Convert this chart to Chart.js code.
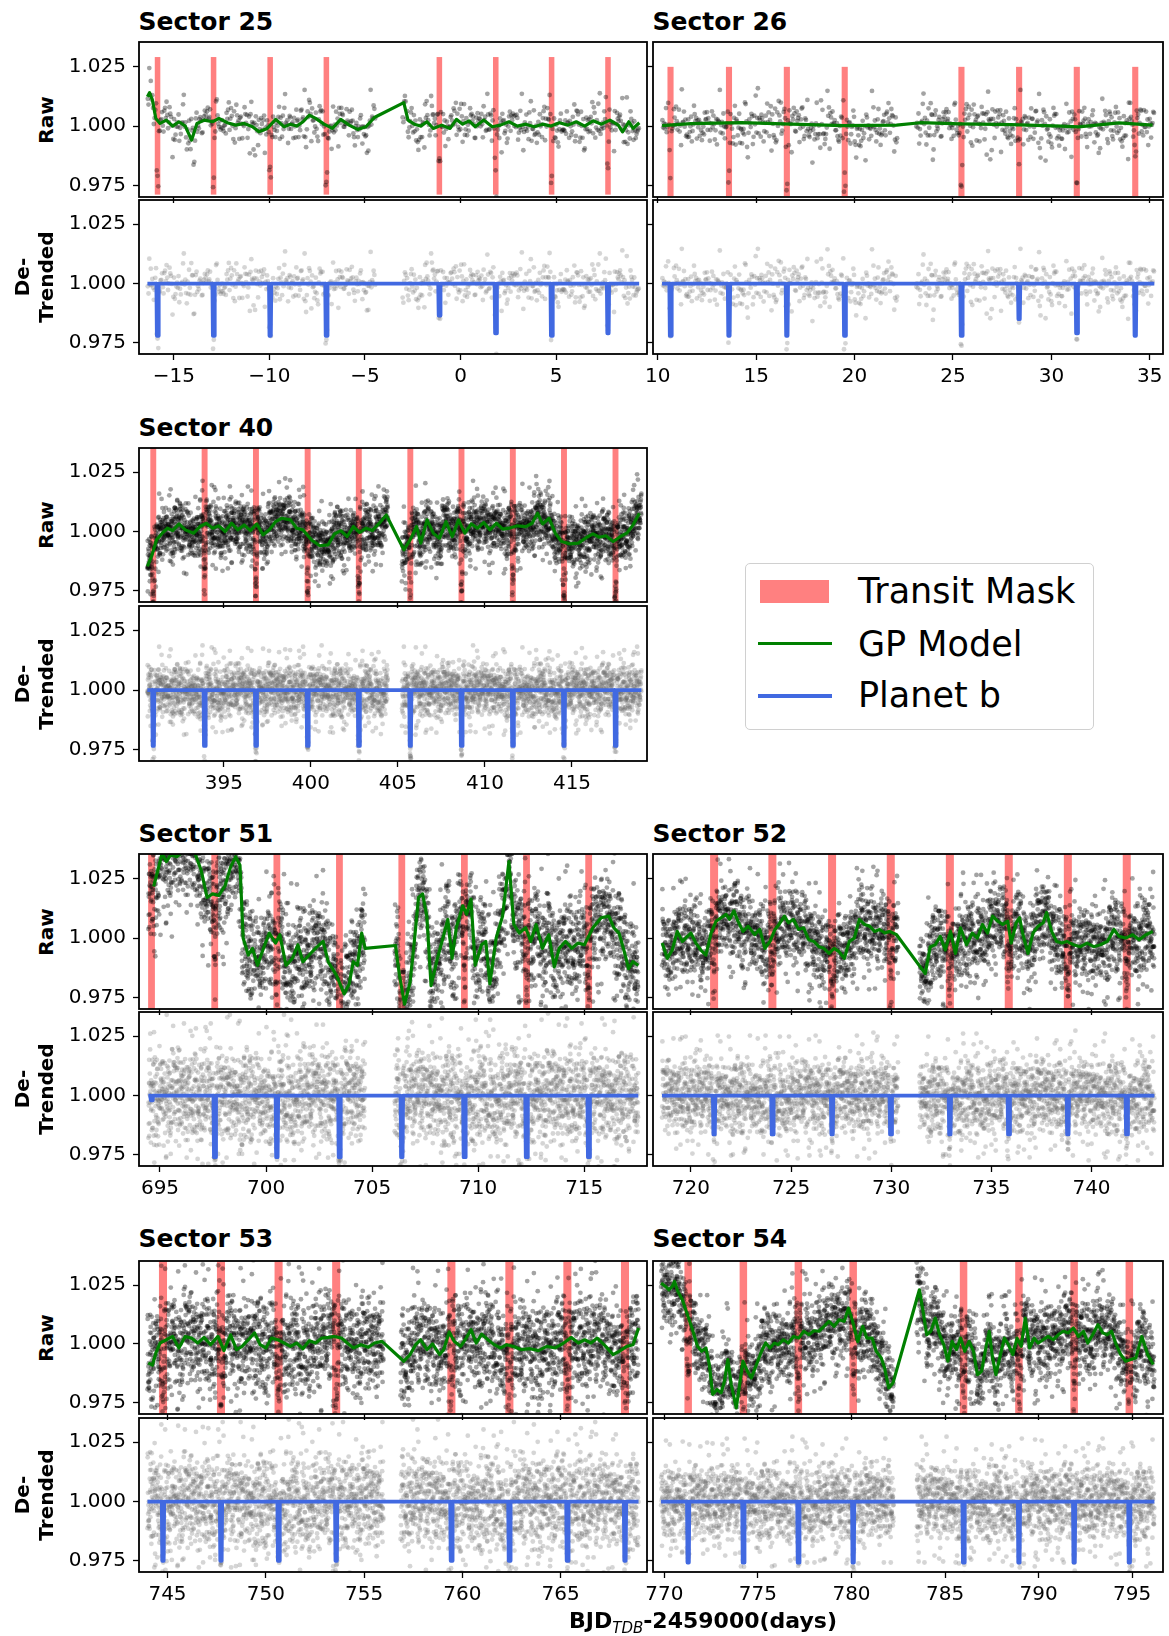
<!DOCTYPE html>
<html lang="en">
<head>
<meta charset="UTF-8">
<title>TESS sectors - raw and de-trended light curves</title>
<script src="https://cdn.jsdelivr.net/npm/chart.js"></script>
<style>
  body { margin: 0; background: #fff; }
  #fig { position: relative; width: 1169px; height: 1636px; overflow: hidden; font-family: 'DejaVu Sans', sans-serif; color: #000; }
  #fig canvas { position: absolute; }
  .txt { position: absolute; white-space: nowrap; }
  .title { font-weight: bold; font-size: 25px; line-height: 25px; }
  .ylab { font-weight: bold; font-size: 20px; line-height: 24px; text-align: center; width: 160px; transform: rotate(-90deg); }
  .leg { font-size: 35px; line-height: 35px; }
  .xlab { font-weight: bold; font-size: 22px; line-height: 22px; }
  .xlab span { font-size: 15px; font-style: italic; font-weight: normal; position: relative; top: 5px; }
</style>
</head>
<body>
<div id="fig"></div>
<script>
// ---- shared axis values ----
const yTicks = [0.975, 1.000, 1.025];
const yRange = [0.9703, 1.0352];

// hand-typed scatter residuals (letter = bin of a unit normal, a second letter = position inside the bin)
const NOISE = [
  'kqmfrxbtoehwjsluancyvdgpizmtoqbhevkrlxdsjwanfucgyi',
  'rlnphqmoskjtdgewivucbfxlyonqampzrkhtlsjgmdoeuwpvca',
  'tvjmeqxohcrnbkalwgsdpyufizqmlnrhkoteswgjvpdcbxuafy',
  'nkslrmqpojhtgiedluwsfmvcqxbnrytokplajmhsgzwqdeivru',
  'mqjbnkroltpshgvxcdeaiwfnmylquorzktpjbhsegcivdwfxal',
  'sohqnmlrkpjwtecgiyfubvdxnaqlrmsopkhjztiwgceufvdbly',
  'gwpmkdqolnbrhjsteiyvudaxcfmnolqkrzpsjhtgwiueafvdcb',
  'uelrnqxmskophajtgiczvdwkbfymlnpoqrhsjitgeuvwdfxcbm',
  'hjqanolmvprkgysatiwdbeucfxlnmzqorpjkhsitgvuwdecfby',
  'qmokcpnlrsjhxtgiaufvdwebynlomqkrpsjthzgiuvfwdexcbl',
  'vdnrmqyolkpsjhtbgiuafwexcqnmlorkpjzshtgiuvfdwecxbn',
  'wolqmnkrpajshtgizvufdexcbymnolqkprjsthgiuvfwdcexbo',
  'pimqalnrshvoktjgzudwecfbxnyqlmopsrkjhtgiwvufdxceba',
  'jrlnmoqkpshbtgiuawvdfcxezynlomqrkpjsthgiuvwfdcexbq',
  'zhcqmuwkaoprlgxfbtnjevsidymqhlpkcrgwotnuaezfjsvbxi',
  'pgtlxnwdqhombkvrefjcszuaiylmpqowhtnkgrxdbsujvecfia',
  'eqbvnsltjzkrhmgcoudwpaxifnymkhqtrlsbgepvwojcuxdnza',
  'wjrmdkfoqnbhstzlgpcveyaximulqntkrhosjdwgfbpcveymax',
  'nsfqkgzmcrotbhdpwulejvyaixqnmkhltsorgpdvjbwucefxlz',
  'ivmrkqaolhtgybnwsdcjepzxufmqkolrnhtgjsbwpvdciyuean',
  'rcokmsjqylfhwnpbtadgzuxevilqomkrpjsnthgwbdcfyuaxve',
  'lyhkpqndmrsoejtwgcbxazuifvnmkorqlhpstjgdwecbyaxufi',
  'gdnqlmrtovkhpsjweicbzyaxfulnmqrkoptshjgvidwecfbxai',
  'qtmnkoyrplhsjdgwiucfzebxavmlqnrkopshtgijudwvfecbyx'
].join('');
const BIN_EDGES = [-2.9,-1.769,-1.426,-1.198,-1.020,-0.869,-0.736,-0.615,-0.502,-0.396,-0.293,-0.194,-0.097,0,
                   0.097,0.194,0.293,0.396,0.502,0.615,0.736,0.869,1.020,1.198,1.426,1.769,2.9];

// ---- Sector 25 ----
const s25Range = [-16.82, 9.75];
const s25Ticks = [-15, -10, -5, 0, 5];
const s25Segments = [[-16.38, -4.45], [-3.05, 9.34]];
const s25Transits = [-15.85, -12.92, -9.96, -7.02, -1.11, 1.84, 4.76, 7.71];
const s25Depths = [0.022, 0.022, 0.022, 0.022, 0.0135, 0.021, 0.022, 0.021];
const s25Gp = [[-16.38,1.0123],[-16.27,1.0140],[-16.12,1.0109],[-15.94,1.0032],[-15.72,1.0011],[-15.39,1.0025],[-15.06,1.0000],
  [-14.73,1.0018],[-14.40,1.0000],[-14.07,0.9941],[-13.79,1.0011],[-13.41,1.0025],[-12.97,1.0018],[-12.64,1.0032],[-12.20,1.0014],
  [-11.76,1.0004],[-11.32,1.0011],[-10.88,0.9997],[-10.55,0.9976],[-10.11,0.9990],[-9.67,1.0028],[-9.23,0.9997],[-8.90,1.0008],
  [-8.57,1.0000],[-8.24,1.0018],[-7.91,1.0046],[-7.58,1.0032],[-7.14,1.0008],[-6.71,0.9990],[-6.27,1.0028],[-5.83,1.0004],
  [-5.39,0.9986],[-4.95,0.9997],[-4.51,1.0036],[-2.97,1.0098],[-2.75,1.0025],[-2.42,1.0008],[-2.09,1.0000],[-1.76,1.0018],
  [-1.43,0.9990],[-0.99,1.0004],[-0.55,0.9990],[-0.22,1.0028],[0.11,1.0008],[0.44,1.0022],[0.77,0.9997],[1.21,1.0025],
  [1.65,0.9997],[2.09,1.0004],[2.53,1.0018],[2.97,1.0000],[3.41,1.0008],[3.85,0.9997],[4.29,1.0008],[4.73,1.0000],
  [5.17,1.0014],[5.61,1.0004],[6.05,1.0018],[6.49,1.0000],[6.93,1.0022],[7.37,1.0008],[7.81,1.0025],[8.25,1.0004],
  [8.47,0.9976],[8.80,1.0018],[9.02,0.9990],[9.35,1.0014]];

// ---- Sector 26 ----
const s26Range = [9.76, 35.67];
const s26Ticks = [10, 15, 20, 25, 30, 35];
const s26Segments = [[10.22, 22.18], [23.12, 35.23]];
const s26Transits = [10.65, 13.62, 16.56, 19.50, 25.43, 28.36, 31.29, 34.26];
const s26Depths = [0.022, 0.022, 0.022, 0.022, 0.022, 0.015, 0.021, 0.022];
const s26Gp = [[10.22,1.0002],[11.68,1.0010],[14.25,1.0014],[16.82,1.0008],[19.39,1.0002],[22.13,1.0004],[23.33,1.0014],
  [25.38,1.0009],[27.95,1.0006],[30.52,1.0000],[31.38,0.9997],[33.43,1.0013],[35.14,1.0004]];

// ---- Sector 40 ----
const s40Range = [390.12, 419.31];
const s40Ticks = [395, 400, 405, 410, 415];
const s40Segments = [[390.6, 404.42], [405.22, 418.99]];
const s40Transits = [390.94, 393.89, 396.84, 399.81, 402.75, 405.71, 408.65, 411.60, 414.54, 417.50];
const s40Depths = [0.0234, 0.0234, 0.0234, 0.0234, 0.0234, 0.0234, 0.0234, 0.0234, 0.0234, 0.0234];
const s40Gp = [[390.60,0.9853],[390.84,0.9895],[391.13,0.9965],[391.45,0.9993],[391.76,1.0014],[392.05,1.0004],[392.42,1.0032],
  [392.78,1.0007],[393.26,0.9993],[393.62,1.0021],[393.99,1.0035],[394.35,1.0014],[394.71,1.0024],[395.07,1.0000],[395.44,1.0035],
  [395.80,1.0007],[396.16,1.0028],[396.52,1.0004],[396.89,1.0032],[397.25,0.9986],[397.61,1.0007],[397.97,1.0042],[398.33,1.0056],
  [398.82,1.0049],[399.18,1.0014],[399.54,1.0007],[400.03,0.9965],[400.51,0.9940],[400.99,0.9944],[401.35,0.9990],[401.72,1.0004],
  [402.08,0.9979],[402.44,1.0021],[402.80,0.9996],[403.17,1.0014],[403.53,1.0004],[403.89,1.0032],[404.33,1.0070],[405.34,0.9923],
  [405.70,0.9965],[406.07,1.0021],[406.31,0.9951],[406.67,1.0049],[407.03,0.9993],[407.39,0.9972],[407.76,1.0042],[408.12,0.9979],
  [408.48,1.0049],[408.84,0.9993],[409.21,1.0032],[409.57,1.0014],[409.93,1.0038],[410.29,1.0007],[410.66,1.0035],[411.02,1.0010],
  [411.38,1.0014],[411.86,1.0024],[412.35,1.0021],[412.71,1.0035],[413.02,1.0077],[413.31,1.0032],[413.68,1.0056],[414.04,0.9993],
  [414.40,0.9958],[414.88,0.9948],[415.37,0.9951],[415.85,0.9976],[416.21,0.9990],[416.57,0.9976],[416.94,0.9982],[417.37,0.9958],
  [417.78,0.9979],[418.15,0.9993],[418.51,1.0028],[418.87,1.0077]];

// ---- Sector 51 ----
const s51Range = [694.01, 717.96];
const s51Ticks = [695, 700, 705, 710, 715];
const s51Segments = [[694.45, 704.67], [706.06, 717.55]];
const s51Transits = [694.60, 697.58, 700.51, 703.46, 706.40, 709.35, 712.28, 715.21];
const s51Depths = [0.002, 0.026, 0.026, 0.026, 0.026, 0.026, 0.026, 0.026];
const s51Gp = [[694.70,1.0216],[694.96,1.0305],[695.10,1.0355],[695.30,1.0320],[695.50,1.0348],[695.79,1.0341],[696.19,1.0369],
  [696.59,1.0369],[696.94,1.0284],[697.22,1.0170],[697.48,1.0185],[697.77,1.0178],[698.07,1.0220],[698.33,1.0298],[698.57,1.0341],
  [698.77,1.0305],[698.92,1.0000],[699.16,0.9929],[699.36,0.9957],[699.60,0.9886],[699.85,0.9950],[700.15,1.0021],[700.45,0.9979],
  [700.65,1.0014],[700.94,0.9886],[701.24,0.9915],[701.50,0.9972],[701.74,0.9901],[702.03,0.9929],[702.33,0.9957],[702.69,0.9986],
  [702.93,0.9901],[703.32,0.9844],[703.68,0.9766],[703.92,0.9808],[704.11,0.9901],[704.31,0.9886],[704.51,1.0021],[704.67,0.9957],
  [706.10,0.9969],[706.29,0.9844],[706.53,0.9723],[706.79,0.9815],[706.99,0.9986],[707.19,1.0170],[707.38,1.0185],[707.58,1.0092],
  [707.78,0.9801],[708.08,0.9915],[708.38,1.0014],[708.57,1.0078],[708.77,0.9915],[708.97,1.0043],[709.27,1.0135],[709.46,1.0100],
  [709.66,1.0163],[709.86,0.9886],[710.16,0.9972],[710.36,0.9986],[710.55,0.9808],[710.85,1.0000],[711.15,1.0092],[711.45,1.0320],
  [711.68,1.0057],[711.94,1.0021],[712.24,1.0043],[712.48,0.9986],[712.73,1.0057],[713.03,0.9957],[713.33,1.0014],[713.59,0.9879],
  [713.82,0.9957],[714.12,0.9986],[714.42,0.9957],[714.71,0.9979],[715.01,0.9972],[715.41,1.0043],[715.80,1.0085],[716.16,1.0092],
  [716.40,1.0043],[716.64,1.0021],[716.89,0.9943],[717.09,0.9872],[717.29,0.9901],[717.55,0.9886]];

// ---- Sector 52 ----
const s52Range = [718.11, 743.57];
const s52Ticks = [720, 725, 730, 735, 740];
const s52Segments = [[718.56, 730.35], [731.41, 743.14]];
const s52Transits = [721.16, 724.07, 727.05, 729.98, 732.93, 735.87, 738.82, 741.76];
const s52Depths = [0.0164, 0.0164, 0.0164, 0.0164, 0.0164, 0.0164, 0.0164, 0.0164];
const s52Gp = [[718.57,0.9979],[718.82,0.9915],[719.07,0.9950],[719.32,1.0028],[719.58,0.9986],[719.83,1.0007],[720.00,1.0021],
  [720.25,0.9979],[720.50,0.9950],[720.75,0.9929],[721.01,1.0021],[721.26,1.0071],[721.51,1.0085],[721.76,1.0099],[721.93,1.0078],
  [722.15,1.0114],[722.35,1.0071],[722.60,1.0028],[722.86,1.0050],[723.19,1.0014],[723.44,1.0036],[723.70,0.9957],[723.95,0.9986],
  [724.20,1.0036],[724.40,1.0057],[724.67,1.0092],[724.87,1.0064],[725.12,1.0078],[725.38,1.0036],[725.63,1.0043],[725.88,0.9993],
  [726.14,0.9986],[726.39,0.9964],[726.64,0.9957],[726.90,0.9936],[727.15,0.9957],[727.40,0.9943],[727.66,0.9915],[727.91,0.9986],
  [728.16,1.0000],[728.41,1.0078],[728.67,1.0057],[728.92,1.0050],[729.17,1.0028],[729.42,1.0036],[729.68,1.0021],[729.93,1.0028],
  [730.27,1.0014],[731.70,0.9851],[731.95,0.9964],[732.20,0.9972],[732.45,1.0007],[732.70,0.9950],[732.96,1.0028],[733.21,0.9936],
  [733.46,1.0043],[733.76,0.9972],[734.05,1.0021],[734.30,1.0000],[734.56,1.0057],[734.81,1.0021],[735.06,1.0092],[735.32,1.0071],
  [735.57,1.0057],[735.82,1.0071],[735.99,0.9979],[736.24,1.0064],[736.41,1.0085],[736.58,1.0014],[736.83,0.9936],[737.08,1.0021],
  [737.34,1.0050],[737.59,1.0064],[737.76,1.0107],[738.01,1.0028],[738.26,0.9986],[738.52,0.9979],[738.77,0.9986],[739.10,0.9972],
  [739.44,0.9964],[739.78,0.9979],[740.11,0.9964],[740.45,0.9972],[740.79,0.9986],[741.12,1.0036],[741.38,1.0007],[741.71,1.0000],
  [742.05,1.0014],[742.38,0.9993],[742.72,1.0014],[743.06,1.0028]];

// ---- Sector 53 ----
const s53Range = [743.55, 769.39];
const s53Ticks = [745, 750, 755, 760, 765];
const s53Segments = [[743.98, 755.99], [756.85, 768.96]];
const s53Transits = [744.77, 747.72, 750.65, 753.58, 759.44, 762.39, 765.34, 768.27];
const s53Depths = [0.025, 0.025, 0.025, 0.025, 0.025, 0.025, 0.025, 0.025];
const s53Gp = [[744.02,0.9920],[744.23,0.9910],[744.41,0.9962],[744.62,1.0004],[744.94,1.0018],[745.26,1.0032],[745.58,0.9983],
  [745.90,1.0032],[746.22,1.0025],[746.54,1.0004],[746.86,1.0028],[747.19,0.9997],[747.57,1.0032],[747.87,0.9972],[748.21,1.0039],
  [748.51,0.9976],[748.79,0.9990],[749.11,1.0018],[749.43,1.0047],[749.71,0.9997],[750.01,0.9983],[750.29,1.0025],[750.61,1.0018],
  [750.93,1.0004],[751.25,0.9990],[751.57,1.0004],[751.89,0.9980],[752.21,1.0014],[752.53,1.0004],[752.85,1.0025],[753.17,1.0028],
  [753.49,1.0032],[753.86,1.0025],[754.14,1.0004],[754.46,0.9983],[754.84,0.9997],[755.21,0.9986],[755.53,1.0004],[755.91,1.0011],
  [757.02,0.9927],[757.34,0.9955],[757.62,0.9997],[757.88,1.0018],[758.20,0.9976],[758.48,1.0000],[758.84,0.9955],[759.05,0.9976],
  [759.33,1.0051],[759.59,1.0011],[759.91,0.9990],[760.19,1.0025],[760.44,1.0061],[760.70,1.0004],[760.98,1.0042],[761.30,1.0018],
  [761.62,0.9997],[761.94,0.9983],[762.26,0.9997],[762.58,0.9990],[763.01,0.9976],[763.44,0.9980],[763.87,0.9972],[764.29,0.9990],
  [764.72,0.9983],[765.15,1.0004],[765.54,1.0028],[765.90,1.0004],[766.22,1.0018],[766.54,1.0004],[766.86,1.0025],[767.29,0.9990],
  [767.67,0.9955],[767.97,0.9969],[768.36,0.9990],[768.68,0.9997],[768.96,1.0068]];

// ---- Sector 54 ----
const s54Range = [769.39, 796.65];
const s54Ticks = [770, 775, 780, 785, 790, 795];
const s54Segments = [[769.82, 782.26], [783.48, 796.19]];
const s54Transits = [771.27, 774.22, 777.16, 780.09, 785.99, 788.95, 791.90, 794.85];
const s54Depths = [0.0257, 0.0257, 0.0257, 0.0257, 0.0257, 0.0257, 0.0257, 0.0257];
const s54Gp = [[769.82,1.0258],[770.06,1.0244],[770.24,1.0230],[770.42,1.0244],[770.54,1.0265],[770.72,1.0223],[770.96,1.0188],
  [771.23,1.0124],[771.50,1.0061],[771.77,0.9990],[771.99,0.9969],[772.22,0.9983],[772.40,0.9913],[772.58,0.9786],[772.81,0.9807],
  [773.03,0.9793],[773.21,0.9842],[773.39,0.9934],[773.57,0.9828],[773.84,0.9729],[774.02,0.9828],[774.20,0.9927],[774.44,0.9884],
  [774.65,0.9856],[774.92,0.9913],[775.19,0.9969],[775.41,1.0004],[775.64,0.9983],[775.88,1.0004],[776.09,0.9997],[776.36,1.0018],
  [776.63,1.0004],[776.90,1.0032],[777.18,1.0025],[777.45,1.0054],[777.72,1.0039],[777.99,1.0056],[778.26,1.0054],[778.53,1.0075],
  [778.80,1.0096],[779.07,1.0075],[779.34,1.0103],[779.61,1.0096],[779.84,1.0152],[780.06,1.0096],[780.33,1.0011],[780.60,1.0075],
  [780.82,1.0025],[781.10,1.0025],[781.32,0.9969],[781.59,0.9941],[781.77,0.9898],[781.99,0.9814],[782.22,0.9835],[783.63,1.0230],
  [783.84,1.0131],[784.02,1.0039],[784.24,1.0054],[784.48,1.0110],[784.71,1.0039],[784.93,0.9997],[785.15,0.9927],[785.38,1.0011],
  [785.61,0.9976],[785.83,1.0025],[786.05,0.9969],[786.29,1.0011],[786.52,0.9969],[786.73,0.9870],[786.95,0.9884],[787.18,0.9983],
  [787.36,1.0054],[787.54,0.9941],[787.72,0.9870],[787.96,0.9955],[788.17,1.0025],[788.39,0.9997],[788.62,0.9955],[788.85,1.0025],
  [789.07,0.9990],[789.29,1.0110],[789.52,0.9983],[789.76,1.0025],[789.97,1.0004],[790.24,1.0018],[790.51,1.0032],[790.78,1.0018],
  [791.05,1.0039],[791.32,1.0054],[791.59,1.0047],[791.86,1.0068],[792.13,1.0032],[792.40,1.0054],[792.63,1.0004],[792.89,1.0039],
  [793.17,1.0082],[793.43,1.0047],[793.66,1.0039],[793.90,1.0054],[794.15,0.9997],[794.39,0.9955],[794.66,0.9927],[794.93,0.9934],
  [795.20,0.9941],[795.52,1.0032],[795.83,0.9955],[796.13,0.9913]];

// per-sector scatter size, noise level, mask width (days) and mask extent
const sectors = [
  { name: 'Sector 25', range: s25Range, ticks: s25Ticks, seg: s25Segments, transits: s25Transits, depths: s25Depths, gp: s25Gp,
    n: 620, sigma: 0.005, offset: 0, maskW: 0.29, maskSpan: [0.9713, 1.0289], col: 0, row: 0 },
  { name: 'Sector 26', range: s26Range, ticks: s26Ticks, seg: s26Segments, transits: s26Transits, depths: s26Depths, gp: s26Gp,
    n: 660, sigma: 0.0055, offset: 530, maskW: 0.31, maskSpan: [0.9707, 1.0248], col: 1, row: 0 },
  { name: 'Sector 40', range: s40Range, ticks: s40Ticks, seg: s40Segments, transits: s40Transits, depths: s40Depths, gp: s40Gp,
    n: 3600, sigma: 0.0065, offset: 90, maskW: 0.34, maskSpan: [0.9705, 1.04], col: 0, row: 1 },
  { name: 'Sector 51', range: s51Range, ticks: s51Ticks, seg: s51Segments, transits: s51Transits, depths: s51Depths, gp: s51Gp,
    n: 3200, sigma: 0.012, offset: 310, maskW: 0.32, maskSpan: [0.96, 1.04], col: 0, row: 2 },
  { name: 'Sector 52', range: s52Range, ticks: s52Ticks, seg: s52Segments, transits: s52Transits, depths: s52Depths, gp: s52Gp,
    n: 3200, sigma: 0.0095, offset: 620, maskW: 0.40, maskSpan: [0.96, 1.04], col: 1, row: 2 },
  { name: 'Sector 53', range: s53Range, ticks: s53Ticks, seg: s53Segments, transits: s53Transits, depths: s53Depths, gp: s53Gp,
    n: 3200, sigma: 0.012, offset: 870, maskW: 0.41, maskSpan: [0.96, 1.04], col: 0, row: 3 },
  { name: 'Sector 54', range: s54Range, ticks: s54Ticks, seg: s54Segments, transits: s54Transits, depths: s54Depths, gp: s54Gp,
    n: 3200, sigma: 0.0095, offset: 1050, maskW: 0.40, maskSpan: [0.96, 1.04], col: 1, row: 3 }
];

// ---- page layout (pixels) ----
const colX = [[139, 647], [653, 1163]];
const rowY = [[42, 197, 200, 354], [448, 602, 606, 761], [854, 1009, 1012, 1166], [1261, 1414, 1418, 1572]];
const titleBase = [30, 436, 842, 1247];

Chart.defaults.font.family = "'DejaVu Sans', sans-serif";
Chart.defaults.color = '#000';

const fig = document.getElementById('fig');

function addText(cls, html, left, top) {
  const d = document.createElement('div');
  d.className = 'txt ' + cls;
  d.innerHTML = html;
  d.style.left = left + 'px';
  d.style.top = top + 'px';
  fig.appendChild(d);
  return d;
}

// read the typed residual table with a long stride so neighbouring points use unrelated letters
function noiseAt(off, i) {
  const N = NOISE.length;
  const pass = Math.floor(i / N);
  const k = NOISE.charCodeAt((off + i * 743) % N) - 97;
  const f = (NOISE.charCodeAt((off + 611 + i * 463 + pass * 37) % N) - 97 + 0.5) / 26;
  return BIN_EDGES[k] + f * (BIN_EDGES[k + 1] - BIN_EDGES[k]);
}

function interp(t, pts) {
  if (t <= pts[0][0]) return pts[0][1];
  for (let i = 1; i < pts.length; i++) {
    if (t <= pts[i][0]) {
      const [t0, f0] = pts[i - 1], [t1, f1] = pts[i];
      return f0 + (f1 - f0) * (t - t0) / (t1 - t0);
    }
  }
  return pts[pts.length - 1][1];
}

// transit dip of planet b (trapezoid, ~0.12 d long)
function dip(t, times, depths) {
  let d = 0;
  times.forEach((tc, i) => {
    const dt = Math.abs(t - tc);
    if (dt < 0.035) d += depths[i];
    else if (dt < 0.06) d += depths[i] * (0.06 - dt) / 0.025;
  });
  return d;
}

function cadence(segs, n) {
  const total = segs.reduce((a, s) => a + s[1] - s[0], 0);
  const out = [];
  segs.forEach(([a, b]) => {
    const m = Math.round(n * (b - a) / total);
    for (let i = 0; i < m; i++) out.push(a + (b - a) * (i + 0.5) / m);
  });
  return out;
}

const framePlugin = {
  id: 'frame',
  afterDatasetsDraw(chart) {
    const { ctx, chartArea: a } = chart;
    ctx.save();
    ctx.strokeStyle = '#000';
    ctx.lineWidth = 1.8;
    ctx.strokeRect(a.left, a.top, a.right - a.left, a.bottom - a.top);
    ctx.restore();
  }
};

function maskPlugin(times, width, span) {
  return {
    id: 'mask',
    beforeDatasetsDraw(chart) {
      const { ctx, chartArea: a, scales: { x, y } } = chart;
      ctx.save();
      ctx.beginPath();
      ctx.rect(a.left, a.top, a.right - a.left, a.bottom - a.top);
      ctx.clip();
      ctx.fillStyle = '#ff8080';
      const yt = y.getPixelForValue(span[1]), yb = y.getPixelForValue(span[0]);
      times.forEach(t => {
        const x0 = x.getPixelForValue(t - width / 2), x1 = x.getPixelForValue(t + width / 2);
        ctx.fillRect(x0, yt, x1 - x0, yb - yt);
      });
      ctx.restore();
    }
  };
}

function fmtX(v) {
  return v < 0 ? '\u2212' + Math.abs(v) : String(v);
}

function makePanel(box, s, showX, showY, datasets, extraPlugins) {
  const [L, T, R, B] = box;
  const padL = 70, padT = 4, padR = 4, padB = showX ? 40 : 10;
  const cv = document.createElement('canvas');
  cv.width = R - L + padL + padR;
  cv.height = B - T + padT + padB;
  cv.style.left = (L - padL) + 'px';
  cv.style.top = (T - padT) + 'px';
  fig.appendChild(cv);
  const gridOpts = { display: true, drawOnChartArea: false, drawTicks: true, tickLength: 6, tickWidth: 1.3, tickColor: '#000' };
  new Chart(cv, {
    type: 'scatter',
    data: { datasets: datasets },
    options: {
      responsive: false,
      animation: false,
      events: [],
      layout: { autoPadding: false, padding: { left: 0, top: padT, right: padR, bottom: 0 } },
      plugins: { legend: { display: false }, tooltip: { enabled: false } },
      scales: {
        x: {
          type: 'linear', min: s.range[0], max: s.range[1],
          afterBuildTicks: ax => { ax.ticks = s.ticks.map(v => ({ value: v })); },
          afterFit: ax => { ax.height = padB; ax.paddingLeft = 0; ax.paddingRight = 0; },
          grid: gridOpts,
          border: { display: false },
          ticks: { display: showX, font: { size: 20 }, color: '#000', padding: 5, maxRotation: 0, autoSkip: false,
                   callback: v => fmtX(v) }
        },
        y: {
          type: 'linear', min: yRange[0], max: yRange[1],
          afterBuildTicks: ax => { ax.ticks = yTicks.map(v => ({ value: v })); },
          afterFit: ax => { ax.width = padL; ax.paddingTop = 0; ax.paddingBottom = 0; },
          grid: gridOpts,
          border: { display: false },
          ticks: { display: showY, font: { size: 20 }, color: '#000', padding: 7, autoSkip: false,
                   callback: v => v.toFixed(3) }
        }
      }
    },
    plugins: [framePlugin].concat(extraPlugins)
  });
}

sectors.forEach(s => {
  const [L, R] = colX[s.col];
  const [rt, rb, dtp, dbt] = rowY[s.row];
  const left = s.col === 0;

  addText('title', s.name, L - 0.5, titleBase[s.row] - 21.15);

  const times = cadence(s.seg, s.n);
  const raw = [], det = [];
  times.forEach((t, i) => {
    const r = s.sigma * noiseAt(s.offset, i);
    const d = dip(t, s.transits, s.depths);
    raw.push({ x: t, y: interp(t, s.gp) + r - d });
    det.push({ x: t, y: 1 + r - d });
  });

  const gpLine = s.gp.map(p => ({ x: p[0], y: p[1] }));
  const t0 = s.seg[0][0], t1 = s.seg[s.seg.length - 1][1];
  const planet = [{ x: t0, y: 1 }];
  s.transits.forEach((tc, i) => {
    planet.push({ x: tc - 0.06, y: 1 }, { x: tc - 0.035, y: 1 - s.depths[i] },
                { x: tc + 0.035, y: 1 - s.depths[i] }, { x: tc + 0.06, y: 1 });
  });
  planet.push({ x: t1, y: 1 });

  makePanel([L, rt, R, rb], s, false, left, [
    { data: gpLine, showLine: true, borderColor: '#008000', borderWidth: 3.2, pointRadius: 0,
      borderJoinStyle: 'round', order: 0, clip: 0 },
    { data: raw, pointRadius: 2.4, pointBorderWidth: 0, backgroundColor: 'rgba(0,0,0,0.36)',
      borderColor: 'rgba(0,0,0,0)', order: 1, clip: 0 }
  ], [maskPlugin(s.transits, s.maskW, s.maskSpan)]);

  makePanel([L, dtp, R, dbt], s, true, left, [
    { data: planet, showLine: true, borderColor: '#4169e1', borderWidth: 3.8, pointRadius: 0,
      borderJoinStyle: 'round', order: 0, clip: 0 },
    { data: det, pointRadius: 2.4, pointBorderWidth: 0, backgroundColor: 'rgba(100,100,100,0.27)',
      borderColor: 'rgba(0,0,0,0)', order: 1, clip: 0 }
  ], []);

  if (left) {
    addText('ylab', 'Raw', 45.7 - 80, (rt + rb) / 2 - 12);
    const dl = addText('ylab', 'De-<br>Trended', 33.7 - 80, (dtp + dbt) / 2 - 24);
    dl.style.height = '48px';
  }
});

// legend
const legend = document.createElement('div');
legend.style.cssText = 'position:absolute;left:745px;top:563px;width:349px;height:167px;box-sizing:border-box;' +
  'border:1.2px solid #d0d0d0;border-radius:5px;background:#fff;';
fig.appendChild(legend);
[['left:760px;top:580px;width:69px;height:23px;background:#ff8080;'],
 ['left:758px;top:642px;width:74px;height:3px;background:#008000;'],
 ['left:758px;top:694px;width:74px;height:3.5px;background:#4169e1;']].forEach(([css]) => {
  const h = document.createElement('div');
  h.style.cssText = 'position:absolute;' + css;
  fig.appendChild(h);
});
addText('leg', 'Transit Mask', 858, 604 - 29.6);
addText('leg', 'GP Model', 858, 656.7 - 29.6);
addText('leg', 'Planet b', 858, 708 - 29.6);

// x-axis label
addText('xlab', 'BJD<span>TDB</span>-2459000(days)', 569, 1628.3 - 18.6);
</script>
</body>
</html>
